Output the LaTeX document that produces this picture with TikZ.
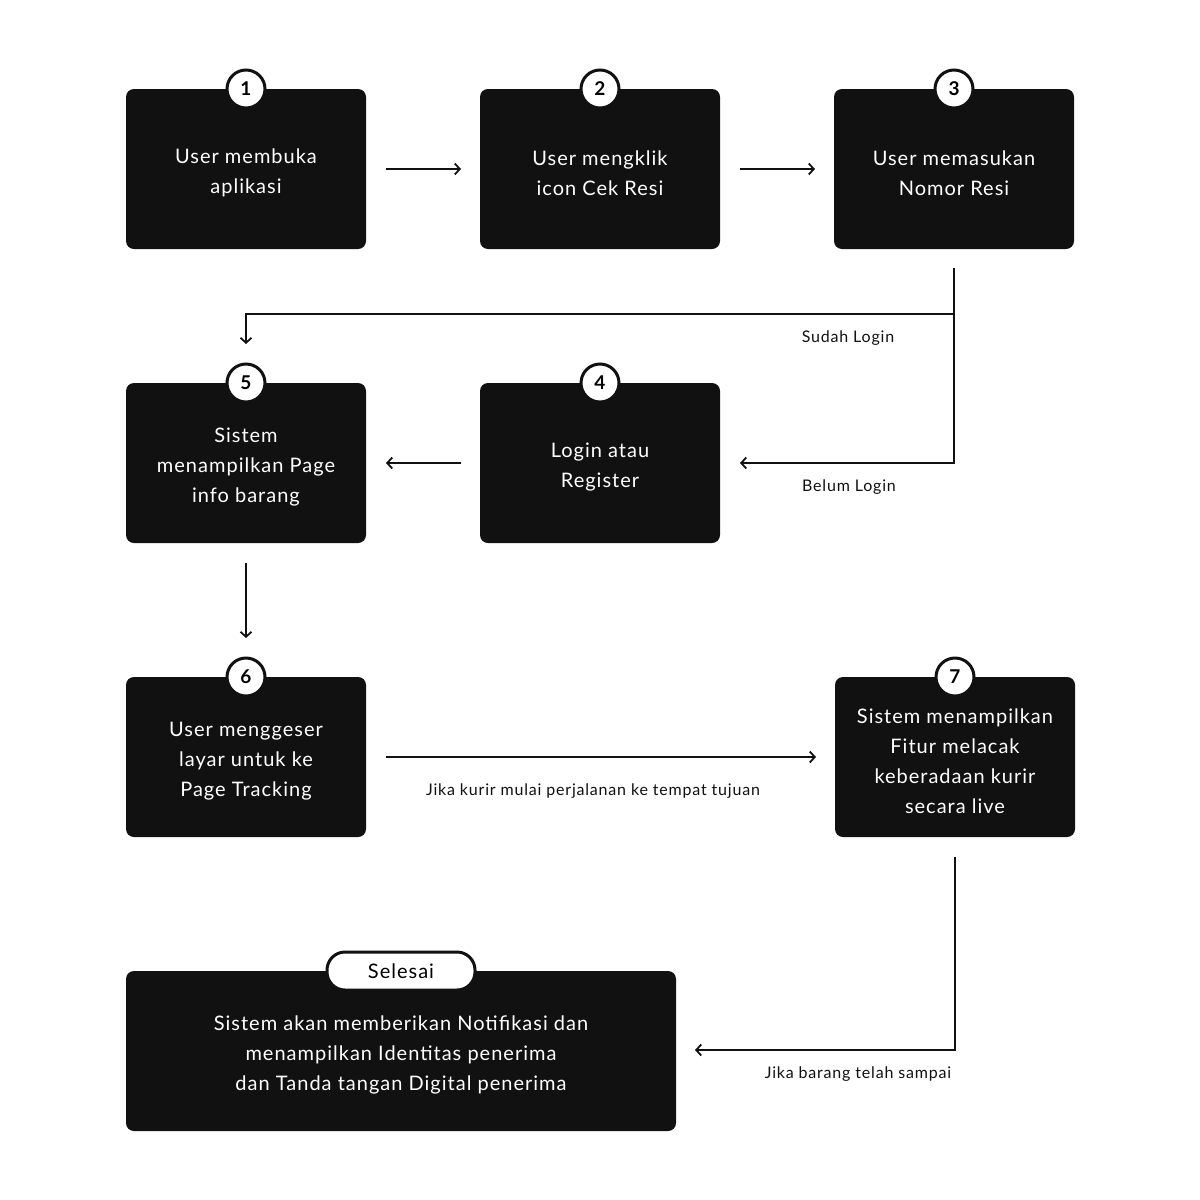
\documentclass[tikz,border=0pt]{standalone}
\usepackage{fontspec}
\setmainfont[LetterSpace=5]{Lato}
\newfontfamily\numfont{Lato}
\usetikzlibrary{arrows.meta}
\definecolor{boxc}{HTML}{111111}
\begin{document}
\begin{tikzpicture}[x=1pt,y=-1pt,
  card/.style={fill=boxc,draw=none,rounded corners=8pt,minimum width=240pt,minimum height=160pt,inner sep=0pt},
  cardtext/.style={text=white,align=center,inner sep=0pt,font=\fontsize{20}{30}\selectfont},
  numc/.style={circle,fill=white,draw=boxc,line width=3pt,minimum size=38pt,inner sep=0pt,font=\numfont\fontsize{19}{19}\selectfont\bfseries},
  pill/.style={rounded corners=18pt,fill=white,draw=boxc,line width=3pt,minimum width=148pt,minimum height=38pt,inner sep=0pt,font=\fontsize{20}{20}\selectfont},
  conn/.style={line width=2pt,draw=boxc,-{Straight Barb[length=5pt,width=11pt,line width=1.8pt]}},
  plain/.style={line width=2pt,draw=boxc},
  lbl/.style={font=\fontsize{16}{16}\selectfont,text=boxc}]
\useasboundingbox (0,0) rectangle (1200,1200);
\fill[white] (0,0) rectangle (1200,1200);

\node[card] (b1) at (246,169) {};
\node[card] (b2) at (600,169) {};
\node[card] (b3) at (954,169) {};
\node[card] (b5) at (246,463) {};
\node[card] (b4) at (600,463) {};
\node[card] (b6) at (246,757) {};
\node[card] (b7) at (955,757) {};
\node[card,minimum width=550pt] (b8) at (401,1051) {};

\node[cardtext] (t1) at ([yshift=-4pt]b1.center) {User membuka\\aplikasi};
\node[cardtext] (t2) at ([yshift=-4pt]b2.center) {User mengklik\\icon Cek Resi};
\node[cardtext] (t3) at ([yshift=-4pt]b3.center) {User memasukan\\Nomor Resi};
\node[cardtext] (t5) at ([yshift=-4pt]b5.center) {Sistem\\menampilkan Page\\info barang};
\node[cardtext] (t4) at ([yshift=-4pt]b4.center) {Login atau\\Register};
\node[cardtext] (t6) at ([yshift=-4pt]b6.center) {User menggeser\\layar untuk ke\\Page Tracking};
\node[cardtext] (t7) at ([yshift=-4pt]b7.center) {Sistem menampilkan\\Fitur melacak\\keberadaan kurir\\secara live};
\node[cardtext] (t8) at ([yshift=-4pt]b8.center) {Sistem akan memberikan Notifikasi dan\\menampilkan Identitas penerima\\dan Tanda tangan Digital penerima};

\node[numc] (n1) at (246,89) {1};
\node[numc] (n2) at (600,89) {2};
\node[numc] (n3) at (954,89) {3};
\node[numc] (n5) at (246,383) {5};
\node[numc] (n4) at (600,383) {4};
\node[numc] (n6) at (246,677) {6};
\node[numc] (n7) at (955,677) {7};
\node[pill] (sel) at (401,971) {Selesai};

\coordinate (a1s) at (386,169); \coordinate (a1e) at (461,169);
\coordinate (a2s) at (740,169); \coordinate (a2e) at (815,169);
\coordinate (a3s) at (954,268); \coordinate (j3) at (954,314);
\coordinate (a3e) at (246,344); \coordinate (a4e) at (740,463);
\coordinate (a5s) at (461,463); \coordinate (a5e) at (386,463);
\coordinate (a6s) at (246,563); \coordinate (a6e) at (246,638);
\coordinate (a7s) at (386,757); \coordinate (a7e) at (816,757);
\coordinate (a8s) at (955,857); \coordinate (a8e) at (695,1050);

\draw[conn] (a1s) -- (a1e);
\draw[conn] (a2s) -- (a2e);
\draw[plain] (a3s) -- (j3);
\draw[conn] (j3) -| (a3e);
\draw[conn] (j3) |- (a4e);
\draw[conn] (a5s) -- (a5e);
\draw[conn] (a6s) -- (a6e);
\draw[conn] (a7s) -- (a7e);
\draw[conn] (a8s) |- (a8e);

\node[lbl] (l1) at (848,338) {Sudah Login};
\node[lbl] (l2) at (849,487) {Belum Login};
\node[lbl] (l3) at (593,791) {Jika kurir mulai perjalanan ke tempat tujuan};
\node[lbl] (l4) at (858,1074) {Jika barang telah sampai};
\end{tikzpicture}
\end{document}
